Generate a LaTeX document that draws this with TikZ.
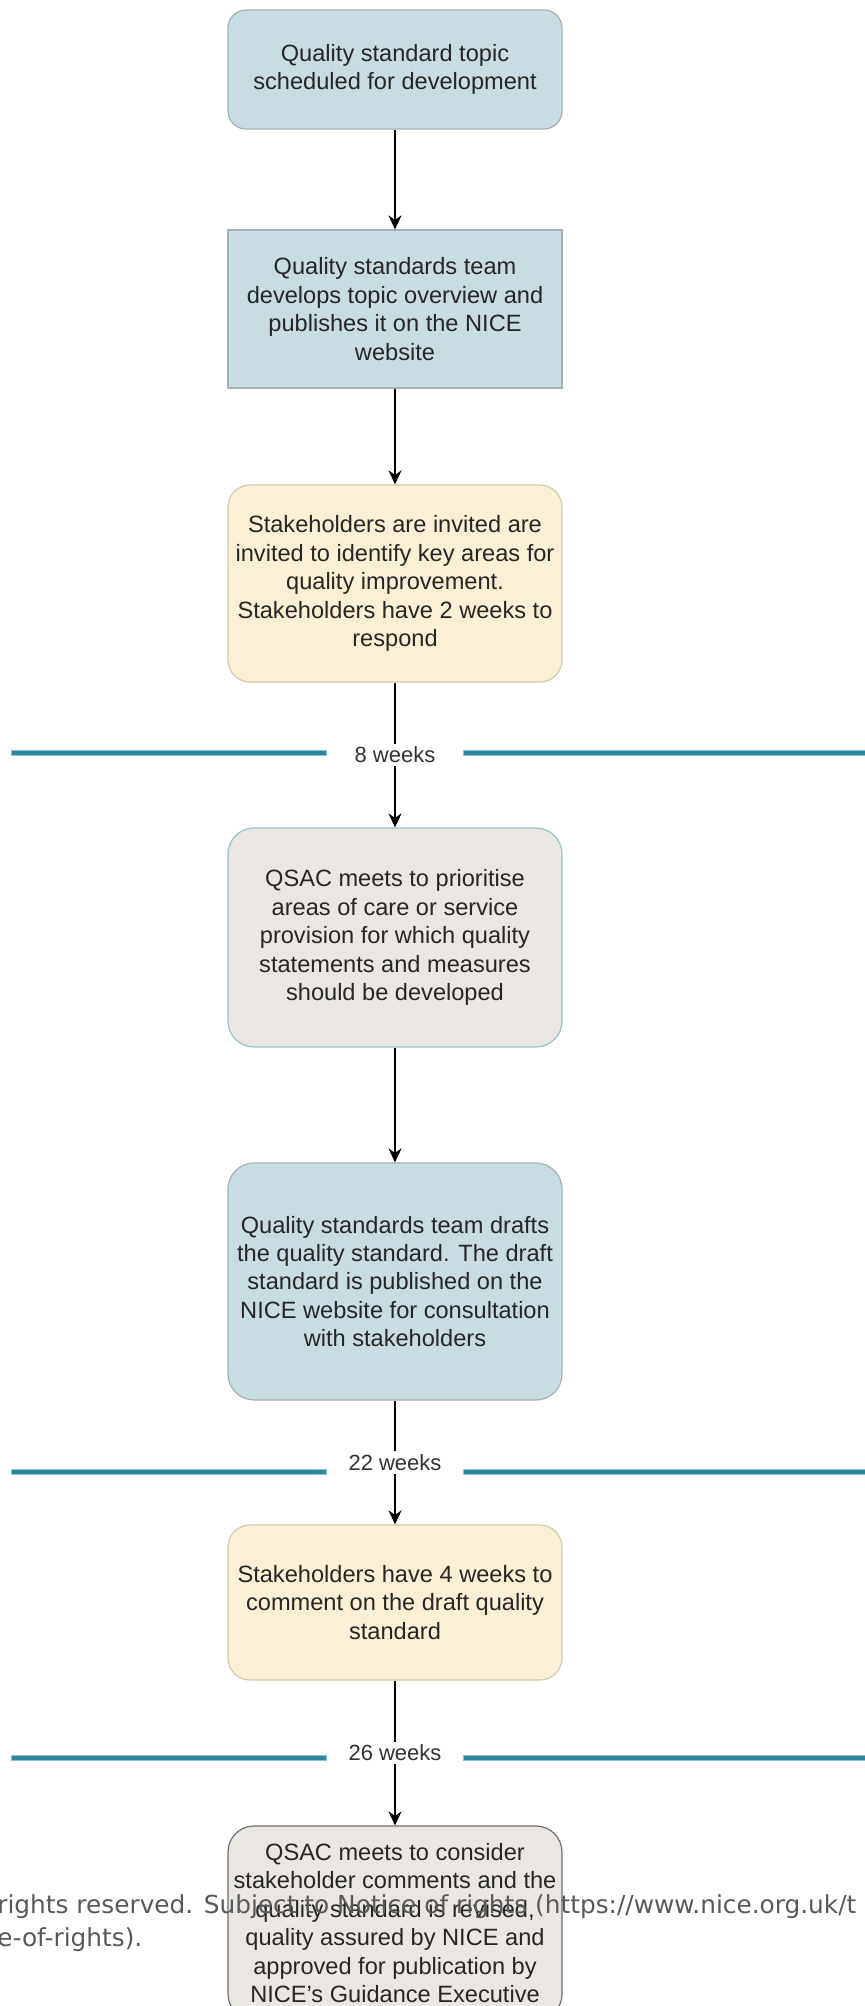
\documentclass[tikz,border=0pt]{standalone}
\usepackage{fontspec}
\setmainfont{Liberation Sans}
\newfontfamily\pagefont{DejaVu Sans}
\usetikzlibrary{arrows.meta,positioning}
\definecolor{qsblue}{HTML}{C9DCE2}
\definecolor{qsblueline}{HTML}{A3B1B6}
\definecolor{qsyellow}{HTML}{FAF0D5}
\definecolor{qsyellowline}{HTML}{D2C9AE}
\definecolor{qsgrey}{HTML}{EAE6E2}
\definecolor{qsgreyline}{HTML}{93C3CC}
\definecolor{qsdarkline}{HTML}{6E6E6E}
\definecolor{septeal}{HTML}{2F879D}
\definecolor{septeallight}{HTML}{8EC2CE}
\begin{document}
\begin{tikzpicture}[x=0.5pt,y=-0.5pt,>={Stealth[length=7pt,width=6.5pt]},
    box/.style={draw,line width=0.6pt,minimum width=167pt,inner sep=0pt,align=center,
      text=black!85,font=\fontsize{11.8}{14.2}\selectfont},
    bluebox/.style={box,fill=qsblue,draw=qsblueline,rounded corners=9pt},
    yellowbox/.style={box,fill=qsyellow,draw=qsyellowline,rounded corners=11pt},
    greybox/.style={box,fill=qsgrey,draw=qsgreyline,rounded corners=13pt},
    flow/.style={->,line width=0.9pt},
    weeks/.style={fill=white,inner sep=1.5pt,text=black!80,font=\fontsize{11}{13}\selectfont},
    sepout/.style={line width=3.2pt,draw=septeallight},
    sepin/.style={line width=1.8pt,draw=septeal}]
  \clip (0,0) rectangle (865,2006);
  % time markers
  \foreach \y in {753,1472,1758}{
    \draw[sepout] (11,\y) -- (327,\y) (463,\y) -- (880,\y);
    \draw[sepin] (12,\y) -- (326,\y) (464,\y) -- (880,\y);
  }
  % steps
  \node[bluebox,minimum height=59.5pt] (topic) at (395,69.5)
    {Quality standard topic\\scheduled for development};
  \node[bluebox,rounded corners=0pt,minimum height=79pt] (overview) at (395,309)
    {Quality standards team\\develops topic overview and\\publishes it on the NICE\\website};
  \node[yellowbox,minimum height=98.5pt] (invite) at (395,583.5)
    {Stakeholders are invited are\\invited to identify key areas for\\quality improvement.\\Stakeholders have 2 weeks to\\respond};
  \node[greybox,minimum height=109.5pt] (prioritise) at (395,937.5)
    {QSAC meets to prioritise\\areas of care or service\\provision for which quality\\statements and measures\\should be developed};
  \node[bluebox,rounded corners=13pt,minimum height=118.5pt] (draft) at (395,1281.5)
    {Quality standards team drafts\\the quality standard. The draft\\standard is published on the\\NICE website for consultation\\with stakeholders};
  \node[yellowbox,minimum height=77.5pt] (comment) at (395,1602.5)
    {Stakeholders have 4 weeks to\\comment on the draft quality\\standard};
  \node[greybox,draw=qsdarkline,minimum height=97pt] (revise) at (395,1923)
    {QSAC meets to consider\\stakeholder comments and the\\quality standard is revised,\\quality assured by NICE and\\approved for publication by\\NICE's Guidance Executive};
  % connectors
  \draw[flow] (topic) -- (overview);
  \draw[flow] (overview) -- (invite);
  \draw[flow] (invite) -- node[weeks] (w8) {8 weeks} (prioritise);
  \draw[flow] (prioritise) -- (draft);
  \draw[flow] (draft) -- node[weeks] (w22) {22 weeks} (comment);
  \draw[flow] (comment) -- node[weeks] (w26) {26 weeks} (revise);
  % page text over the picture
  \node[anchor=north west,align=left,inner sep=0pt,text=black!65,
    font=\pagefont\fontsize{12.4}{16.5}\selectfont] (notice) at (-3,1894)
    {rights reserved. Subject to Notice of rights (https://www.nice.org.uk/t\\e-of-rights).};
\end{tikzpicture}
\end{document}
